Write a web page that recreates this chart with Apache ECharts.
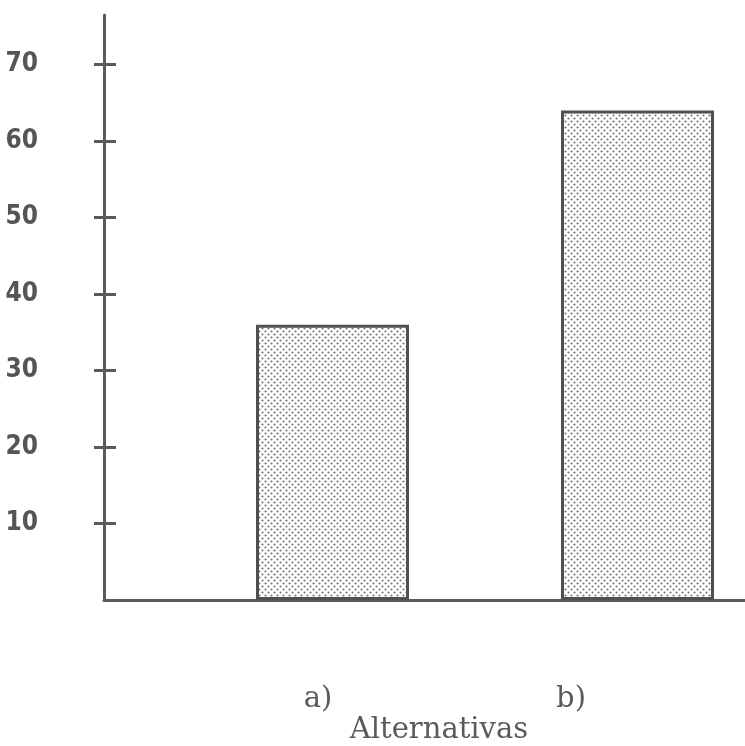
<!DOCTYPE html>
<html><head><meta charset="utf-8">
<script src="https://cdn.jsdelivr.net/npm/echarts@6/dist/echarts.min.js"></script>
<style>html,body{margin:0;padding:0;background:#fff}#c{width:745px;height:746px}</style>
</head><body><div id="c"></div>
<script>
var categories = ['a)', 'b)'];
var values = [36, 64];
var yTicks = [10, 20, 30, 40, 50, 60, 70];
var axisName = 'Alternativas';

function dotPattern() {
  var c = document.createElement('canvas');
  c.width = 6; c.height = 6;
  var g = c.getContext('2d');
  g.fillStyle = '#ffffff'; g.fillRect(0, 0, 6, 6);
  g.fillStyle = '#707070';
  g.beginPath(); g.arc(1.5, 1.5, 1.05, 0, Math.PI * 2); g.fill();
  g.beginPath(); g.arc(4.5, 4.5, 1.05, 0, Math.PI * 2); g.fill();
  return c;
}

var chart = echarts.init(document.getElementById('c'));
var ink = '#5a5a5a';
var yMax = 76.5;
chart.setOption({
  animation: false,
  backgroundColor: '#fff',
  grid: [
    { left: 180, width: 610, top: 15, bottom: 146, outerBoundsMode: 'none', containLabel: false },
    { left: 104, right: 0, top: 15, bottom: 146, outerBoundsMode: 'none', containLabel: false }
  ],
  xAxis: [
    { type: 'category', gridIndex: 0, data: categories,
      axisLine: { show: false }, axisTick: { show: false },
      axisLabel: { margin: 85, formatter: function (v, i) { return '{l' + i + '|' + v + '}'; },
        rich: {
          l0: { fontFamily: 'DejaVu Serif', fontSize: 29, color: ink, padding: [0, 29, 0, 0] },
          l1: { fontFamily: 'DejaVu Serif', fontSize: 29, color: ink, padding: [0, 133, 0, 0] }
        } } },
    { type: 'value', gridIndex: 1, min: 0, max: 1,
      axisLine: { show: true, lineStyle: { color: ink, width: 3 } },
      axisTick: { show: false }, axisLabel: { show: false }, splitLine: { show: false },
      name: axisName, nameLocation: 'middle', nameGap: 116,
      nameTextStyle: { fontFamily: 'DejaVu Serif', fontSize: 29, color: ink, padding: [0, 0, 0, 29] } }
  ],
  yAxis: [
    { type: 'value', gridIndex: 0, min: 0, max: yMax, show: false },
    { type: 'value', gridIndex: 1, position: 'left', min: 0, max: yMax, interval: 10,
      axisLine: { show: true, lineStyle: { color: ink, width: 3 } },
      axisTick: { show: true, length: 10, customValues: yTicks, lineStyle: { color: ink, width: 3 } },
      axisLabel: { customValues: yTicks, margin: 66, color: '#555',
        fontFamily: "'Liberation Sans Narrow', 'DejaVu Sans Condensed', sans-serif",
        fontWeight: 'bold', fontSize: 26 },
      splitLine: { show: false } },
    { type: 'value', gridIndex: 1, position: 'left', offset: 0, min: 0, max: yMax, interval: 10,
      axisLine: { show: false },
      axisTick: { show: true, inside: true, length: 12, customValues: yTicks, lineStyle: { color: ink, width: 3 } },
      axisLabel: { show: false }, splitLine: { show: false } }
  ],
  series: [{
    type: 'bar', xAxisIndex: 0, yAxisIndex: 0, data: values, barWidth: 153,
    itemStyle: { color: { image: dotPattern(), repeat: 'repeat' }, borderColor: '#505050', borderWidth: 3 }
  }]
});
</script></body></html>
